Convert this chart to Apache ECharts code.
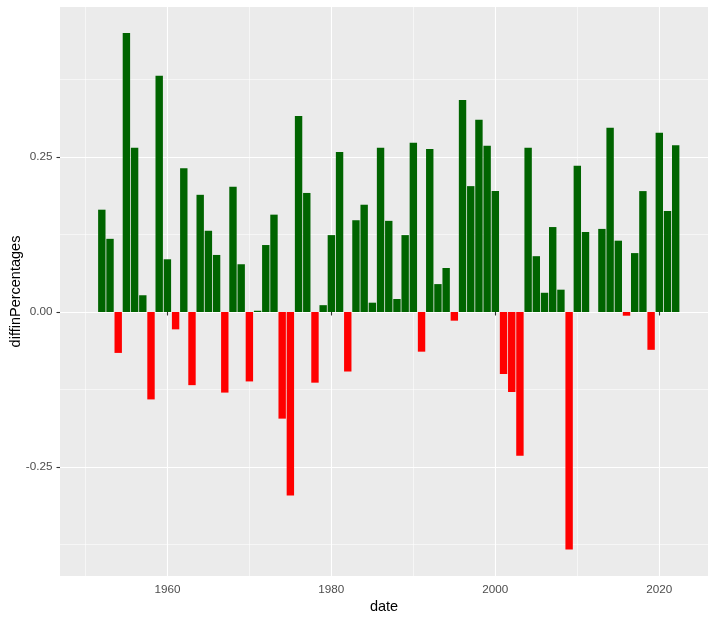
<!DOCTYPE html>
<html>
<head>
<meta charset="utf-8">
<script src="https://cdn.jsdelivr.net/npm/echarts@6/dist/echarts.min.js"></script>
<style>
  html, body { margin: 0; padding: 0; background: #fff; }
  #main { width: 716px; height: 621px; }
</style>
</head>
<body>
<div id="main"></div>
<script>
// data
var years = [1952, 1953, 1954, 1955, 1956, 1957, 1958, 1959, 1960, 1961,
             1962, 1963, 1964, 1965, 1966, 1967, 1968, 1969, 1970, 1971,
             1972, 1973, 1974, 1975, 1976, 1977, 1978, 1979, 1980, 1981,
             1982, 1983, 1984, 1985, 1986, 1987, 1988, 1989, 1990, 1991,
             1992, 1993, 1994, 1995, 1996, 1997, 1998, 1999, 2000, 2001,
             2002, 2003, 2004, 2005, 2006, 2007, 2008, 2009, 2010, 2011,
             2013, 2014, 2015, 2016, 2017, 2018, 2019, 2020, 2021, 2022];
var diffinPercentages = [0.165, 0.118, -0.066, 0.450, 0.265, 0.027, -0.141, 0.381, 0.085, -0.028,
                         0.232, -0.118, 0.189, 0.131, 0.092, -0.130, 0.202, 0.077, -0.112, 0.002,
                         0.108, 0.157, -0.172, -0.296, 0.316, 0.192, -0.114, 0.011, 0.124, 0.258,
                         -0.096, 0.148, 0.173, 0.015, 0.265, 0.147, 0.021, 0.124, 0.273, -0.064,
                         0.263, 0.045, 0.071, -0.014, 0.342, 0.203, 0.310, 0.268, 0.195, -0.100,
                         -0.129, -0.232, 0.265, 0.090, 0.031, 0.137, 0.036, -0.383, 0.236, 0.129,
                         0.134, 0.297, 0.115, -0.006, 0.095, 0.195, -0.061, 0.289, 0.163, 0.269];
var xMajorTicks = [1960, 1980, 2000, 2020];
var xMinorTicks = [1950, 1970, 1990, 2010];
var yMajorTicks = [-0.25, 0, 0.25];
var yMinorTicks = [-0.375, -0.125, 0.125, 0.375];

var xMin = 1946.9, xMax = 2025.94;
var yMin = -0.4258, yMax = 0.4919;

var myChart = echarts.init(document.getElementById('main'));

var barData = years.map(function (y, i) { return [y, diffinPercentages[i]]; });

var option = {
  animation: false,
  grid: {
    left: 60, right: 8, top: 7, bottom: 45,
    outerBoundsMode: 'none', containLabel: false,
    show: true, backgroundColor: '#EBEBEB', borderWidth: 0
  },
  xAxis: [{
    type: 'value', min: xMin, max: xMax,
    name: 'date', nameLocation: 'middle', nameGap: 23, nameMoveOverlap: false,
    nameTextStyle: { color: '#000', fontSize: 14.5, fontFamily: 'Liberation Sans' },
    axisLine: { show: false },
    axisTick: { show: true, length: 3.5, customValues: xMajorTicks, lineStyle: { color: '#333', width: 1.1 } },
    axisLabel: {
      customValues: xMajorTicks, color: '#4D4D4D', fontSize: 11.7, fontFamily: 'Liberation Sans', margin: 8,
      formatter: function (v) { return String(v); }
    },
    splitLine: { show: true, lineStyle: { color: '#fff', width: 1.1 } }
  }, {
    type: 'value', min: xMin, max: xMax, position: 'bottom',
    axisLine: { show: false },
    axisTick: { show: false, customValues: xMinorTicks },
    axisLabel: { show: false, customValues: xMinorTicks },
    splitLine: { show: true, lineStyle: { color: '#fff', width: 0.55 } }
  }],
  yAxis: [{
    type: 'value', min: yMin, max: yMax,
    name: 'diffinPercentages', nameLocation: 'middle', nameGap: 37, nameMoveOverlap: false,
    nameTextStyle: { color: '#000', fontSize: 14.5, fontFamily: 'Liberation Sans' },
    axisLine: { show: false },
    axisTick: { show: true, length: 3.5, customValues: yMajorTicks, lineStyle: { color: '#333', width: 1.1 } },
    axisLabel: {
      customValues: yMajorTicks, color: '#4D4D4D', fontSize: 11.7, fontFamily: 'Liberation Sans', margin: 7.5,
      formatter: function (v) { return v.toFixed(2); }
    },
    splitLine: { show: true, lineStyle: { color: '#fff', width: 1.1 } }
  }, {
    type: 'value', min: yMin, max: yMax, position: 'left',
    axisLine: { show: false },
    axisTick: { show: false, customValues: yMinorTicks },
    axisLabel: { show: false, customValues: yMinorTicks },
    splitLine: { show: true, lineStyle: { color: '#fff', width: 0.55 } }
  }],
  series: [{
    type: 'bar',
    xAxisIndex: 0, yAxisIndex: 0,
    barWidth: 7.4,
    data: barData,
    itemStyle: {
      color: function (p) { return p.value[1] > 0 ? '#006400' : '#FF0000'; }
    }
  }]
};

myChart.setOption(option);
</script>
</body>
</html>
